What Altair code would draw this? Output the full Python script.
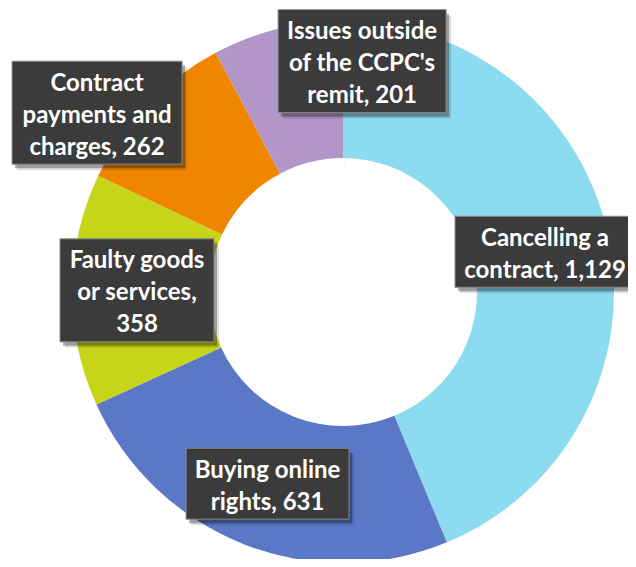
import altair as alt
import pandas as pd

# ---- data ----
categories = ["Cancelling a contract", "Buying online rights", "Faulty goods or services",
              "Contract payments and charges", "Issues outside of the CCPC's remit"]
values = [1129, 631, 358, 262, 201]
label_lines = ["Cancelling a\ncontract, 1,129", "Buying online\nrights, 631",
               "Faulty goods\nor services,\n358", "Contract\npayments and\ncharges, 262",
               "Issues outside\nof the CCPC's\nremit, 201"]

# ---- style ----
colors = ["#8CDBF0", "#5B78C6", "#C6D41A", "#F08600", "#B296C8"]
W, H = 620, 551
CX, CY = 335, 284
R_OUT, R_IN = 271, 134
LABEL_R = 206
LINE_H = 32
box_w = [180, 163, 154, 170, 168]
nudge_x = [0, 0, 0, -97, 69]
nudge_y = [0, 0, 0, -37, -31]

df = pd.DataFrame({
    "category": categories,
    "value": values,
    "order": list(range(len(categories))),
    "label": label_lines,
    "bw": box_w,
    "ndx": nudge_x,
    "ndy": nudge_y,
    "nlines": [s.count("\n") + 1 for s in label_lines],
})

xs = alt.Scale(domain=[0, W], range=[0, W])
ys = alt.Scale(domain=[0, H], range=[0, H])

# donut glow / shadow
glow_df = pd.DataFrame({"v": [1]})
glows = []
for k in range(1, 8):
    glows.append(
        alt.Chart(glow_df).mark_arc(
            innerRadius=R_IN - k * 1.3, outerRadius=R_OUT + k * 1.5,
            color="#000000", opacity=0.045
        ).encode(theta=alt.Theta("v:Q"), x=alt.value(CX + 2), y=alt.value(CY + 2))
    )

donut = alt.Chart(df).mark_arc(innerRadius=R_IN, outerRadius=R_OUT).encode(
    theta=alt.Theta("value:Q", stack=True),
    order=alt.Order("order:Q"),
    color=alt.Color("category:N", scale=alt.Scale(domain=categories, range=colors), legend=None),
    x=alt.value(CX), y=alt.value(CY),
)

lab = alt.Chart(df).transform_joinaggregate(
    total="sum(value)"
).transform_window(
    cum="sum(value)", sort=[alt.SortField("order")], frame=[None, 0]
).transform_calculate(
    mid="2*PI*(datum.cum - datum.value/2)/datum.total"
).transform_calculate(
    cx=f"{CX} + {LABEL_R}*sin(datum.mid) + datum.ndx",
    cy=f"{CY} - {LABEL_R}*cos(datum.mid) + datum.ndy",
    bh=f"7 + {LINE_H}*datum.nlines",
).transform_calculate(
    x1="datum.cx - datum.bw/2", x2="datum.cx + datum.bw/2",
    y1="datum.cy - datum.bh/2", y2="datum.cy + datum.bh/2",
    ty=f"datum.cy - (datum.nlines - 1)*{LINE_H}/2 + 3",
)

def box_enc(m):
    return m.encode(
        x=alt.X("x1:Q", scale=xs, axis=None), x2="x2:Q",
        y=alt.Y("y1:Q", scale=ys, axis=None), y2="y2:Q")

shadow2 = box_enc(lab.mark_rect(color="#000000", opacity=0.12, xOffset=5, yOffset=6, x2Offset=5, y2Offset=6))
shadow1 = box_enc(lab.mark_rect(color="#000000", opacity=0.3, xOffset=3, yOffset=4, x2Offset=3, y2Offset=4))
boxes = box_enc(lab.mark_rect(color="#3B3B3B", stroke="#8A8A8A", strokeWidth=1))
texts = lab.mark_text(
    font="Lato", fontSize=24, fontWeight="bold", color="white",
    lineBreak="\n", lineHeight=LINE_H, align="center", baseline="middle"
).encode(
    x=alt.X("cx:Q", scale=xs, axis=None),
    y=alt.Y("ty:Q", scale=ys, axis=None),
    text="label:N",
)

chart = alt.layer(*glows, donut, shadow2, shadow1, boxes, texts).properties(
    width=W, height=H, padding=0, autosize=alt.AutoSizeParams(type="none")
).configure(background="white", view=alt.ViewConfig(stroke=None))

chart.save("out.html", embed_options={"renderer": "svg", "actions": False})
